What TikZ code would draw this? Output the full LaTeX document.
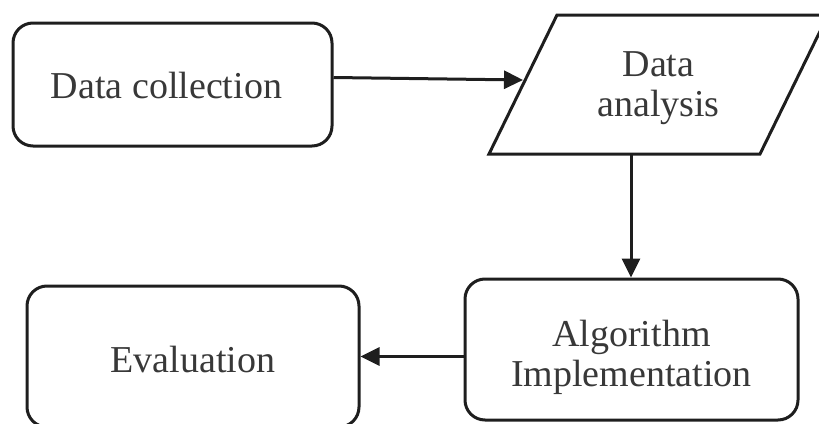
\documentclass[tikz,border=0pt]{standalone}
\usepackage{fontspec}
\setmainfont{Liberation Serif}
\usetikzlibrary{arrows.meta}
\definecolor{linec}{HTML}{1E1E1E}
\definecolor{textc}{HTML}{383838}
\begin{document}
\begin{tikzpicture}[x=1pt,y=-1pt,
  txt/.style={text=textc, align=center, font=\fontsize{38}{40}\selectfont, inner sep=0pt},
  box/.style={draw=linec, line width=3pt, rounded corners=20pt, inner sep=0pt},
  arr/.style={draw=linec, line width=3pt, -{Triangle[length=19pt,width=18pt]}}]
\useasboundingbox (0,0) rectangle (819,423);
\clip (0,0) rectangle (819,423);
% nodes
\node[box, minimum width=319pt, minimum height=123pt,
      label={[txt, xshift=-6pt, yshift=-1pt]center:Data collection}] (dc) at (172.5,84.5) {};
\node[txt] (da) at (658.5,88.5) {Data\\analysis};
\draw[draw=linec, line width=3pt] (489,154) -- (760,154) -- (828,15) -- (557,15) -- cycle;
\coordinate (daL) at (523,80);
\coordinate (daB) at (631,154);
\node[box, minimum width=333pt, minimum height=141pt,
      label={[txt, yshift=-7.5pt]center:Algorithm\\Implementation}] (al) at (631.5,349.5) {};
\node[box, minimum width=332pt, minimum height=141pt,
      label={[txt, yshift=-2.5pt]center:Evaluation}] (ev) at (193,356.5) {};
% connectors
\draw[arr] ([yshift=7pt]dc.east) -- (daL);
\draw[arr] (daB) -- (daB |- al.north);
\draw[arr] (al.west |- ev.east) -- (ev.east);
\end{tikzpicture}
\end{document}
